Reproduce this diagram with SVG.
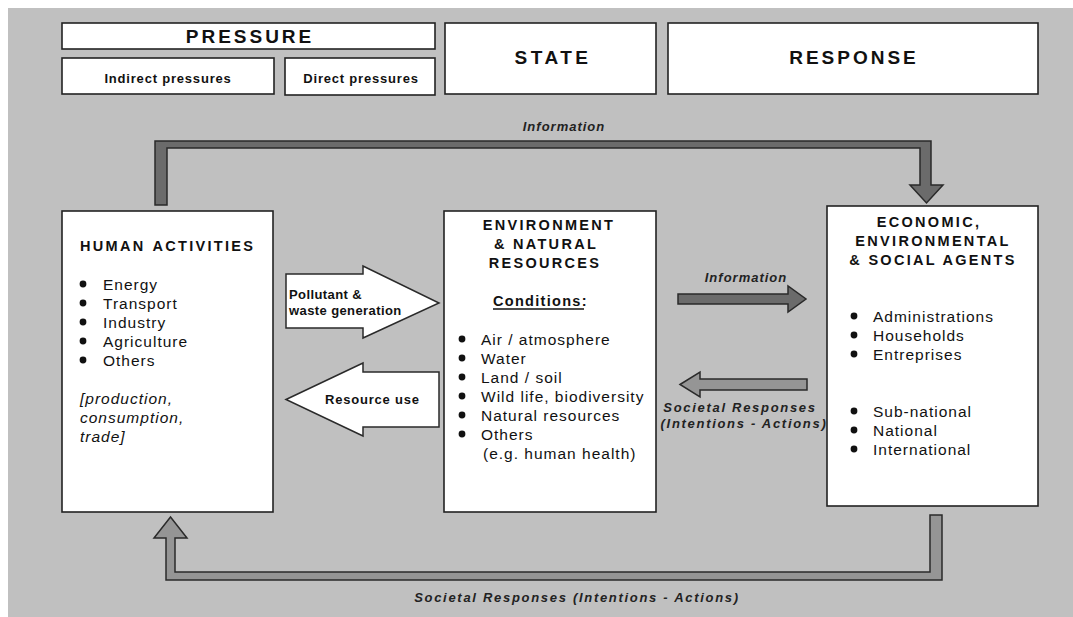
<svg xmlns="http://www.w3.org/2000/svg" width="1073" height="617" viewBox="0 0 1073 617">
<style>
.box{fill:#fff;stroke:#222;stroke-width:1.6}
.hdr{font-family:"Liberation Sans",Arial,sans-serif;font-weight:bold;font-size:19px;letter-spacing:3px;fill:#111;text-anchor:middle}
.sub{font-family:"Liberation Sans",Arial,sans-serif;font-weight:bold;font-size:13px;letter-spacing:0.8px;fill:#111}
.ttl{font-family:"Liberation Sans",Arial,sans-serif;font-weight:bold;font-size:14.5px;letter-spacing:2.3px;fill:#111}
.itm{font-family:"Liberation Sans",Arial,sans-serif;font-size:15.5px;letter-spacing:1px;fill:#111}
.itl{font-family:"Liberation Sans",Arial,sans-serif;font-style:italic;font-size:15.5px;letter-spacing:1px;fill:#111}
.lbl{font-family:"Liberation Sans",Arial,sans-serif;font-weight:bold;font-style:italic;font-size:13px;letter-spacing:1px;fill:#222}
.wide{letter-spacing:1.7px}
.bul{fill:#111}
.dark{fill:#6b6b6b;stroke:#2a2a2a;stroke-width:1.5;stroke-linejoin:miter}
.light{fill:#959595;stroke:#2a2a2a;stroke-width:1.5;stroke-linejoin:miter}
.white{fill:#fff;stroke:#2a2a2a;stroke-width:1.5;stroke-linejoin:miter}
</style>
<rect x="8" y="8" width="1065" height="609" fill="#c0c0c0"/>

<g id="header-pressure">
<rect class="box" x="62" y="23" width="373" height="26"/>
<text class="hdr" x="250" y="43">PRESSURE</text>
</g>
<g id="header-indirect">
<rect class="box" x="62" y="58" width="212" height="36"/>
<text class="sub" x="168" y="83" text-anchor="middle">Indirect pressures</text>
</g>
<g id="header-direct">
<rect class="box" x="285" y="58" width="150" height="37"/>
<text class="sub" x="361" y="83" text-anchor="middle">Direct pressures</text>
</g>
<g id="header-state">
<rect class="box" x="445" y="23" width="211" height="71"/>
<text class="hdr" x="553" y="64" style="letter-spacing:3.5px">STATE</text>
</g>
<g id="header-response">
<rect class="box" x="668" y="23" width="370" height="71"/>
<text class="hdr" x="854" y="64">RESPONSE</text>
</g>

<g id="connectors">
<path class="dark" d="M155,205 L155,141 L931,141 L931,185 L943,185 L926.5,203 L910,185 L920,185 L920,148 L167,148 L167,205 Z"/>
<path class="light" d="M930,515 L942,515 L942,580 L166,580 L166,538 L154,538 L170.5,517 L187,538 L175,538 L175,572 L930,572 Z"/>
<path class="dark" d="M678,294 L788,294 L788,286 L806,299 L788,312 L788,304 L678,304 Z"/>
<path class="light" d="M680,384.5 L700,372 L700,379 L807,379 L807,390 L700,390 L700,397 Z"/>
<path class="white" d="M286,274 L363,274 L363,266 L439,303 L363,338 L363,328 L286,328 Z"/>
<path class="white" d="M286,399.5 L363,363 L363,372 L439,372 L439,427 L363,427 L363,436 Z"/>
<text class="lbl" x="564" y="131" text-anchor="middle">Information</text>
<text class="lbl" x="746" y="282" text-anchor="middle">Information</text>
<text class="lbl wide" x="740" y="412" text-anchor="middle">Societal Responses</text>
<text class="lbl wide" x="744" y="428" text-anchor="middle">(Intentions - Actions)</text>
<text class="sub" x="289" y="299" style="letter-spacing:0.4px">Pollutant &amp;</text>
<text class="sub" x="289" y="315" style="letter-spacing:0.4px">waste generation</text>
<text class="sub" x="325" y="404">Resource use</text>
<text class="lbl wide" x="577" y="602" text-anchor="middle">Societal Responses (Intentions - Actions)</text>
</g>

<g id="node-human-activities">
<rect class="box" x="62" y="211" width="211" height="301"/>
<text class="ttl" x="80" y="251">HUMAN<tspan dx="7">ACTIVITIES</tspan></text>
<circle class="bul" cx="83" cy="284" r="3.4"/><text class="itm" x="103" y="290">Energy</text>
<circle class="bul" cx="83" cy="303" r="3.4"/><text class="itm" x="103" y="309">Transport</text>
<circle class="bul" cx="83" cy="322" r="3.4"/><text class="itm" x="103" y="328">Industry</text>
<circle class="bul" cx="83" cy="341" r="3.4"/><text class="itm" x="103" y="347">Agriculture</text>
<circle class="bul" cx="83" cy="360" r="3.4"/><text class="itm" x="103" y="366">Others</text>
<text class="itl" x="80" y="404">[production,</text>
<text class="itl" x="80" y="423">consumption,</text>
<text class="itl" x="80" y="442">trade]</text>
</g>

<g id="node-environment">
<rect class="box" x="444" y="211" width="212" height="301"/>
<text class="ttl" x="549" y="230" text-anchor="middle">ENVIRONMENT</text>
<text class="ttl" x="546" y="249" text-anchor="middle">&amp; NATURAL</text>
<text class="ttl" x="545" y="268" text-anchor="middle">RESOURCES</text>
<text class="ttl" x="493" y="306" style="letter-spacing:1.3px">Conditions:</text>
<line x1="493" y1="309" x2="584" y2="309" stroke="#111" stroke-width="1.3"/>
<circle class="bul" cx="462" cy="339" r="3.4"/><text class="itm" x="481" y="345">Air / atmosphere</text>
<circle class="bul" cx="462" cy="358" r="3.4"/><text class="itm" x="481" y="364">Water</text>
<circle class="bul" cx="462" cy="377" r="3.4"/><text class="itm" x="481" y="383">Land / soil</text>
<circle class="bul" cx="462" cy="396" r="3.4"/><text class="itm" x="481" y="402">Wild life, biodiversity</text>
<circle class="bul" cx="462" cy="415" r="3.4"/><text class="itm" x="481" y="421">Natural resources</text>
<circle class="bul" cx="462" cy="434" r="3.4"/><text class="itm" x="481" y="440">Others</text>
<text class="itm" x="483" y="459">(e.g. human health)</text>
</g>

<g id="node-agents">
<rect class="box" x="827" y="206" width="211" height="300"/>
<text class="ttl" x="929" y="227" text-anchor="middle">ECONOMIC,</text>
<text class="ttl" x="933" y="246" text-anchor="middle">ENVIRONMENTAL</text>
<text class="ttl" x="933" y="265" text-anchor="middle">&amp; SOCIAL AGENTS</text>
<circle class="bul" cx="854" cy="316" r="3.4"/><text class="itm" x="873" y="322">Administrations</text>
<circle class="bul" cx="854" cy="335" r="3.4"/><text class="itm" x="873" y="341">Households</text>
<circle class="bul" cx="854" cy="354" r="3.4"/><text class="itm" x="873" y="360">Entreprises</text>
<circle class="bul" cx="854" cy="411" r="3.4"/><text class="itm" x="873" y="417">Sub-national</text>
<circle class="bul" cx="854" cy="430" r="3.4"/><text class="itm" x="873" y="436">National</text>
<circle class="bul" cx="854" cy="449" r="3.4"/><text class="itm" x="873" y="455">International</text>
</g>
</svg>
